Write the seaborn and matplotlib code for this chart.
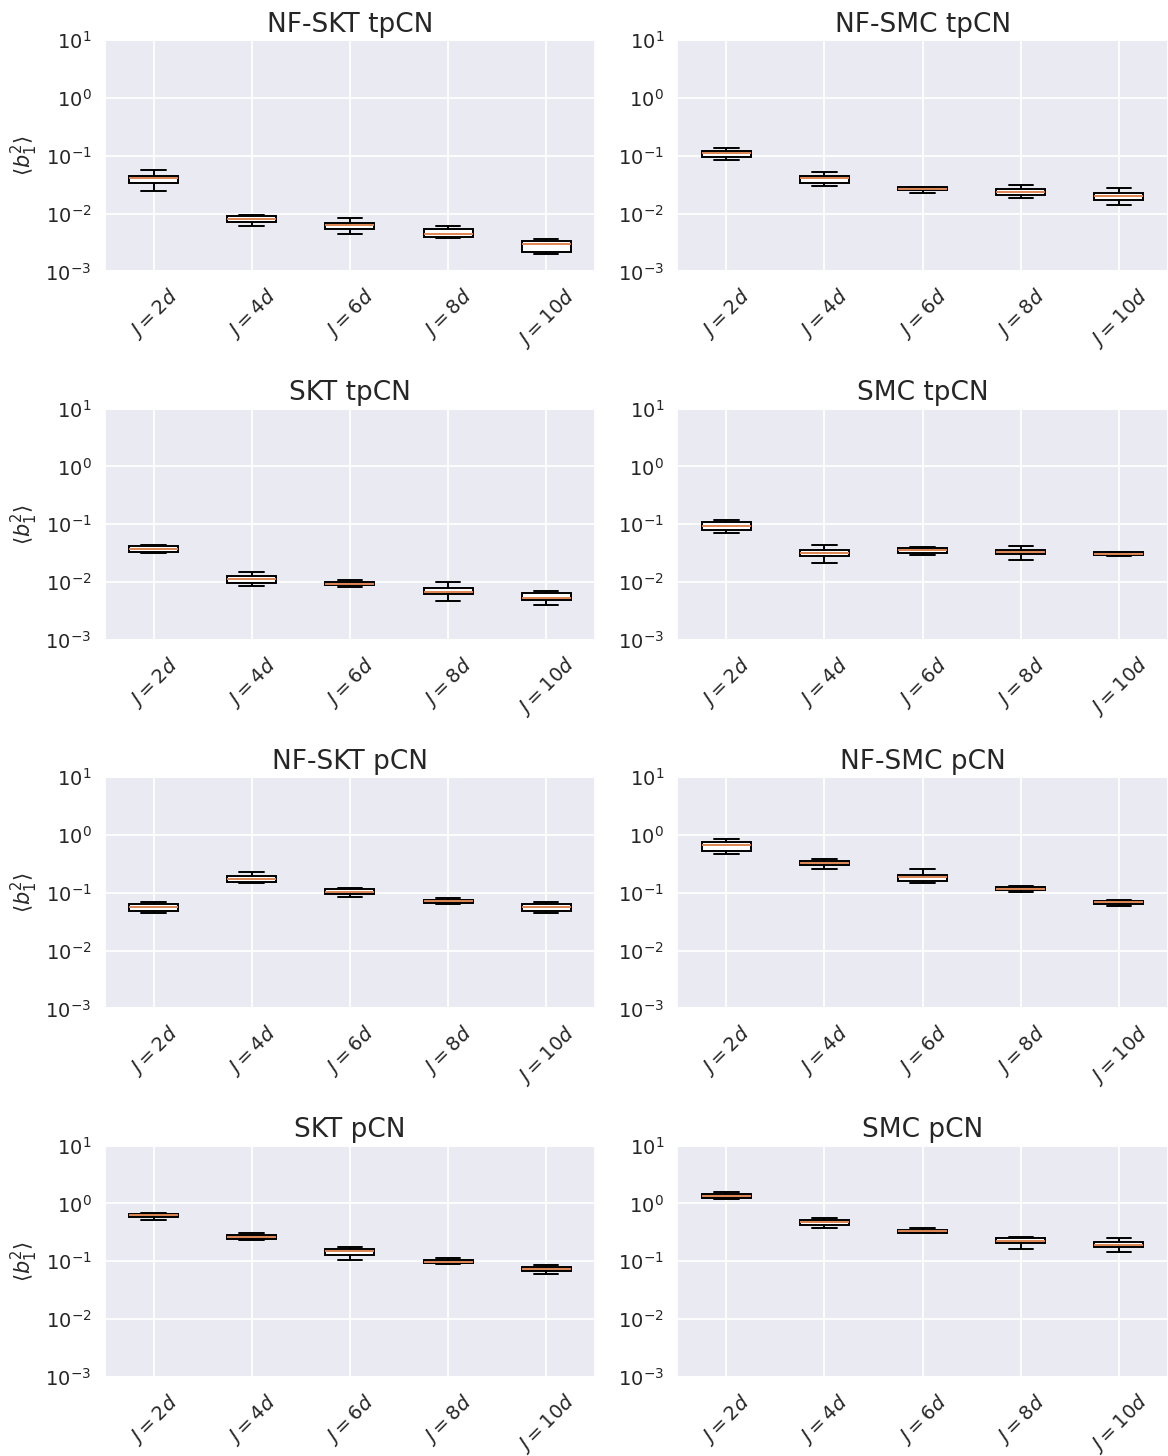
import numpy as np
import pandas as pd
import matplotlib
matplotlib.use("Agg")
import matplotlib.pyplot as plt
import seaborn as sns

# Category labels
j_labels = [r"$J=2d$", r"$J=4d$", r"$J=6d$", r"$J=8d$", r"$J=10d$"]

# Five-number summaries per box: [whisker low, Q1, median, Q3, whisker high]
nf_skt_tpcn = [
    [0.0243, 0.0343, 0.0414, 0.0440, 0.0575],
    [0.0060, 0.0072, 0.0082, 0.0090, 0.00935],
    [0.0044, 0.0055, 0.0063, 0.0070, 0.0084],
    [0.00385, 0.0040, 0.0045, 0.0054, 0.0060],
    [0.0020, 0.00218, 0.0030, 0.00337, 0.00356],
]
nf_smc_tpcn = [
    [0.084, 0.095, 0.110, 0.122, 0.137],
    [0.0303, 0.0337, 0.0407, 0.045, 0.053],
    [0.023, 0.0252, 0.0269, 0.0292, 0.0292],
    [0.0188, 0.021, 0.0239, 0.0269, 0.0316],
    [0.0141, 0.0174, 0.0199, 0.023, 0.028],
]
skt_tpcn = [
    [0.0324, 0.0337, 0.038, 0.0415, 0.044],
    [0.0085, 0.0098, 0.0112, 0.0126, 0.0147],
    [0.0083, 0.0090, 0.0094, 0.0101, 0.0107],
    [0.0047, 0.0061, 0.0068, 0.0078, 0.0099],
    [0.0040, 0.0048, 0.0052, 0.0065, 0.0071],
]
smc_tpcn = [
    [0.071, 0.080, 0.092, 0.108, 0.117],
    [0.0217, 0.0287, 0.0324, 0.036, 0.0434],
    [0.0295, 0.0319, 0.0356, 0.0385, 0.041],
    [0.0239, 0.0303, 0.0328, 0.036, 0.0427],
    [0.0284, 0.0292, 0.031, 0.0328, 0.0333],
]
nf_skt_pcn = [
    [0.044, 0.0489, 0.0558, 0.064, 0.068],
    [0.145, 0.153, 0.175, 0.195, 0.231],
    [0.083, 0.096, 0.105, 0.114, 0.122],
    [0.064, 0.0672, 0.0718, 0.0757, 0.082],
    [0.044, 0.0489, 0.0558, 0.064, 0.068],
]
nf_smc_pcn = [
    [0.477, 0.537, 0.664, 0.767, 0.863],
    [0.259, 0.300, 0.329, 0.351, 0.380],
    [0.149, 0.161, 0.184, 0.204, 0.260],
    [0.105, 0.110, 0.118, 0.125, 0.130],
    [0.058, 0.063, 0.068, 0.073, 0.075],
]
skt_pcn = [
    [0.514, 0.58, 0.62, 0.66, 0.68],
    [0.232, 0.241, 0.261, 0.283, 0.310],
    [0.107, 0.129, 0.148, 0.162, 0.177],
    [0.088, 0.0916, 0.098, 0.1045, 0.1145],
    [0.0598, 0.0674, 0.073, 0.079, 0.0867],
]
smc_pcn = [
    [1.19, 1.25, 1.34, 1.43, 1.55],
    [0.381, 0.43, 0.47, 0.524, 0.551],
    [0.308, 0.308, 0.329, 0.347, 0.371],
    [0.166, 0.204, 0.227, 0.249, 0.267],
    [0.143, 0.174, 0.194, 0.219, 0.249],
]

panel_titles = ["NF-SKT tpCN", "NF-SMC tpCN", "SKT tpCN", "SMC tpCN",
                "NF-SKT pCN", "NF-SMC pCN", "SKT pCN", "SMC pCN"]
panel_data = [nf_skt_tpcn, nf_smc_tpcn, skt_tpcn, smc_tpcn,
              nf_skt_pcn, nf_smc_pcn, skt_pcn, smc_pcn]
y_label = r"$\langle b_1^2 \rangle$"

sns.set_theme(style="darkgrid")
plt.rcParams["font.family"] = ["DejaVu Sans"]

fig, axes = plt.subplots(4, 2, figsize=(11.68, 14.56), dpi=100)
fig.subplots_adjust(left=0.0895, right=1.0, top=0.9725, bottom=0.0543,
                    wspace=0.167, hspace=0.593)

median_color = sns.color_palette("deep")[1]

for ax, title, boxes in zip(axes.flat, panel_titles, panel_data):
    rows = []
    for lab, five in zip(j_labels, boxes):
        for v in five:
            rows.append({"J": lab, "value": v})
    df = pd.DataFrame(rows)
    ax.set_yscale("log")
    sns.boxplot(data=df, x="J", y="value", order=j_labels, ax=ax,
                whis=(0, 100), width=0.5, color="white", saturation=1,
                linecolor="black", linewidth=1.4, showfliers=False,
                medianprops={"color": median_color, "linewidth": 1.4})
    ax.set_ylim(1e-3, 1e1)
    ax.set_yticks([1e-3, 1e-2, 1e-1, 1e0, 1e1])
    ax.yaxis.set_minor_locator(matplotlib.ticker.NullLocator())
    ax.set_xlim(-0.5, 4.5)
    ax.grid(True, axis="both", color="white", linewidth=1.3)
    ax.set_axisbelow(True)
    ax.set_title(title, fontsize=19)
    ax.set_xlabel("")
    ax.tick_params(axis="both", labelsize=14)
    ax.tick_params(axis="x", labelrotation=45)
    ax.set_ylabel(y_label if ax in axes[:, 0] else "", fontsize=15)

fig.savefig("out.png", dpi=100)
